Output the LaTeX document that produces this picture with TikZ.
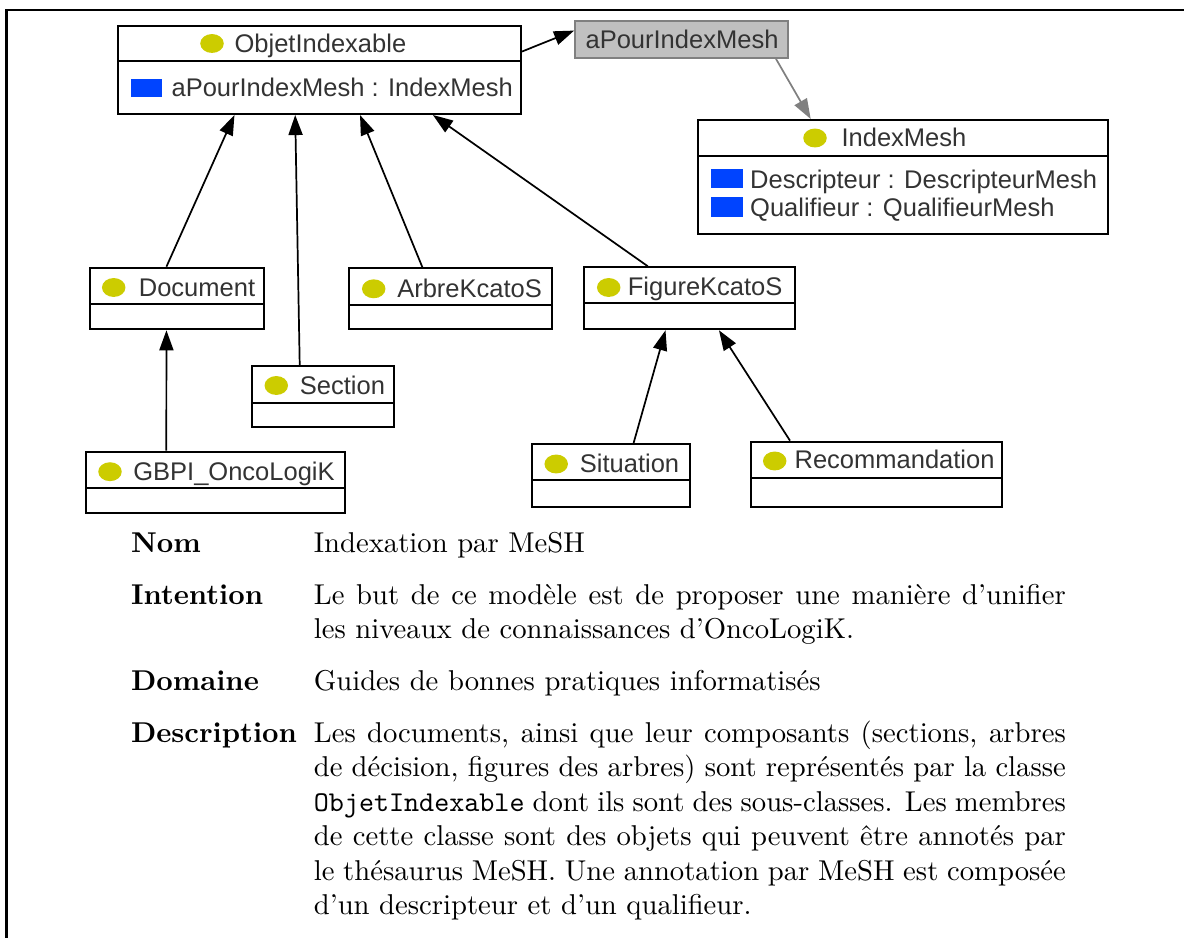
\documentclass[tikz,border=0pt]{standalone}
\usepackage{fontspec}
\newfontfamily\umlfont{Liberation Sans}
\usetikzlibrary{arrows.meta,fit,calc}
\definecolor{dotc}{RGB}{204,204,0}
\definecolor{attrc}{RGB}{0,68,255}
\definecolor{umltxt}{RGB}{51,51,51}
\definecolor{graybox}{RGB}{192,192,192}
\definecolor{grayline}{RGB}{128,128,128}
\newlength\bw \setlength\bw{262.3pt}
\begin{document}
\begin{tikzpicture}[x=0.3488pt,y=-0.3488pt,
  classbox/.style={draw=black,line width=0.7pt,inner sep=0pt},
  divline/.style={draw=black,line width=0.7pt},
  dot/.style={fill=dotc},
  attr/.style={fill=attrc},
  umltext/.style={anchor=base west,inner sep=0pt,font=\umlfont\fontsize{8.9}{10.7}\selectfont,text=umltxt},
  inh/.style={draw=black,line width=0.6pt,-{Triangle[length=7pt,width=4.9pt]}},
  grayarrow/.style={draw=grayline,line width=0.6pt,-{Triangle[length=7pt,width=4.9pt]}},
  relbox/.style={draw=grayline,fill=graybox,line width=0.6pt,inner sep=0pt},
  lbl/.style={anchor=base west,inner sep=0pt,font=\bfseries},
  bodytext/.style={anchor=base west,inner sep=0pt},
  frameline/.style={draw=black,line width=0.95pt}
]
\useasboundingbox (0,0) rectangle (1184,938);
\draw[frameline] (6.4,938) -- (6.4,10) -- (1184,10);

% ObjetIndexable
\node[classbox,fit={(118,26) (521,114)}] (objet) {};
\draw[divline] (118,61) -- (521,61);
\fill[dot] (212,43.5) ellipse [x radius=4.1pt,y radius=3.3pt];
\node[umltext] (objetT) at (234,52.5) {ObjetIndexable};
\fill[attr] (131,79) rectangle (162,97);
\node[umltext] (objetA) at (171,97) {aPourIndexMesh : IndexMesh};

% relation box
\node[relbox,fit={(575,21) (788,58)}] (rel) {};
\node[umltext] (relT) at (585,48.3) {aPourIndexMesh};

% IndexMesh
\node[classbox,fit={(698,120) (1108,234)}] (mesh) {};
\draw[divline] (698,156) -- (1108,156);
\fill[dot] (815,138) ellipse [x radius=4.1pt,y radius=3.3pt];
\node[umltext] (meshT) at (841,146.7) {IndexMesh};
\fill[attr] (710.6,168.7) rectangle (742.5,188.3);
\node[umltext] (meshA) at (749.6,188.3) {Descripteur : DescripteurMesh};
\fill[attr] (710.6,196.9) rectangle (742.5,216.7);
\node[umltext] (meshB) at (749.6,216.7) {Qualifieur : QualifieurMesh};

% Document
\node[classbox,fit={(90,267.7) (264,329.3)}] (doc) {};
\draw[divline] (90,304) -- (264,304);
\fill[dot] (113.7,287.5) ellipse [x radius=4.1pt,y radius=3.3pt];
\node[umltext] (docT) at (138.3,296.7) {Document};

% Section
\node[classbox,fit={(252,366) (393.7,427.3)}] (sec) {};
\draw[divline] (252,402.7) -- (393.7,402.7);
\fill[dot] (276.3,385.5) ellipse [x radius=4.1pt,y radius=3.3pt];
\node[umltext] (secT) at (299.3,395) {Section};

% ArbreKcatoS
\node[classbox,fit={(349.3,268.3) (552,329.3)}] (arbre) {};
\draw[divline] (349.3,305) -- (552,305);
\fill[dot] (373.7,288.8) ellipse [x radius=4.1pt,y radius=3.3pt];
\node[umltext] (arbreT) at (396.7,297.7) {ArbreKcatoS};

% FigureKcatoS
\node[classbox,fit={(584.3,267.3) (795.3,329.3)}] (fig) {};
\draw[divline] (584.3,303.3) -- (795.3,303.3);
\fill[dot] (608.7,287.5) ellipse [x radius=4.1pt,y radius=3.3pt];
\node[umltext] (figT) at (627.3,295.5) {FigureKcatoS};

% GBPI_OncoLogiK
\node[classbox,fit={(85.7,451.7) (345.3,513.3)}] (gbpi) {};
\draw[divline] (85.7,488.3) -- (345.3,488.3);
\fill[dot] (110,471.7) ellipse [x radius=4.1pt,y radius=3.3pt];
\node[umltext] (gbpiT) at (132.7,481) {GBPI\_OncoLogiK};

% Situation
\node[classbox,fit={(531.7,444) (690,507.3)}] (sit) {};
\draw[divline] (531.7,480) -- (690,480);
\fill[dot] (556.2,464) ellipse [x radius=4.1pt,y radius=3.3pt];
\node[umltext] (sitT) at (579.3,472.7) {Situation};

% Recommandation
\node[classbox,fit={(750.7,441.7) (1002.3,507.3)}] (rec) {};
\draw[divline] (750.7,478.3) -- (1002.3,478.3);
\fill[dot] (774.7,461) ellipse [x radius=4.1pt,y radius=3.3pt];
\node[umltext] (recT) at (794,469) {Recommandation};

% connectors
\draw[inh] ($(objet.north east)!0.295!(objet.south east)$) -- ($(rel.north west)!0.27!(rel.south west)$);
\draw[grayarrow] ($(rel.south west)!0.94!(rel.south east)$) -- ($(mesh.north west)!0.276!(mesh.north east)$);
\draw[inh] ($(doc.north west)!0.44!(doc.north east)$) -- ($(objet.south west)!0.29!(objet.south east)$);
\draw[inh] ($(sec.north west)!0.339!(sec.north east)$) -- ($(objet.south west)!0.44!(objet.south east)$);
\draw[inh] ($(arbre.north west)!0.362!(arbre.north east)$) -- ($(objet.south west)!0.60!(objet.south east)$);
\draw[inh] ($(fig.north west)!0.303!(fig.north east)$) -- ($(objet.south west)!0.78!(objet.south east)$);
\draw[inh] ($(gbpi.north west)!0.312!(gbpi.north east)$) -- ($(doc.south west)!0.44!(doc.south east)$);
\draw[inh] ($(sit.north west)!0.642!(sit.north east)$) -- ($(fig.south west)!0.386!(fig.south east)$);
\draw[inh] ($(rec.north west)!0.159!(rec.north east)$) -- ($(fig.south west)!0.637!(fig.south east)$);

% pattern description
\node[lbl] (nomL) at (130.5,553) {Nom};
\node[bodytext] (nomT) at (313.3,553) {Indexation par MeSH};
\node[lbl] (intL) at (130.5,604.6) {Intention};
\node[bodytext] (int1) at (313.3,604.6) {\makebox[\bw][s]{Le but de ce modèle est de proposer une manière d’unifier}};
\node[bodytext] (int2) at (313.3,639) {les niveaux de connaissances d’OncoLogiK.};
\node[lbl] (domL) at (130.5,690.7) {Domaine};
\node[bodytext] (domT) at (313.3,690.7) {Guides de bonnes pratiques informatisés};
\node[lbl] (desL) at (130.5,742.4) {Description};
\node[bodytext] (des1) at (313.3,742.4) {\makebox[\bw][s]{Les documents, ainsi que leur composants (sections, arbres}};
\node[bodytext] (des2) at (313.3,776.8) {\makebox[\bw][s]{de décision, figures des arbres) sont représentés par la classe}};
\node[bodytext] (des3) at (313.3,811.3) {\makebox[\bw][s]{\texttt{ObjetIndexable} dont ils sont des sous-classes. Les membres}};
\node[bodytext] (des4) at (313.3,845.7) {\makebox[\bw][s]{de cette classe sont des objets qui peuvent être annotés par}};
\node[bodytext] (des5) at (313.3,880.2) {\makebox[\bw][s]{le thésaurus MeSH. Une annotation par MeSH est composée}};
\node[bodytext] (des6) at (313.3,914.6) {d’un descripteur et d’un qualifieur.};
\end{tikzpicture}
\end{document}
